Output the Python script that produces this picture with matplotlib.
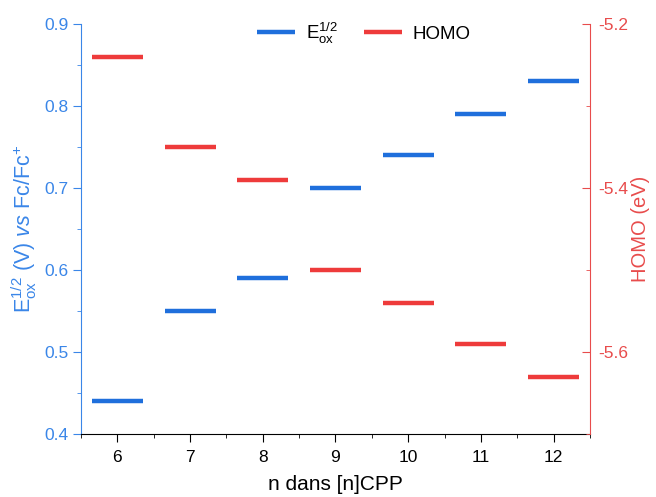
import matplotlib
matplotlib.use("Agg")
import matplotlib.pyplot as plt
from matplotlib.ticker import MultipleLocator

plt.rcParams['font.family'] = ['Liberation Sans', 'DejaVu Sans']
plt.rcParams['mathtext.fontset'] = 'custom'
plt.rcParams['mathtext.rm'] = 'Liberation Sans'
plt.rcParams['mathtext.it'] = 'Liberation Sans:italic'
plt.rcParams['mathtext.bf'] = 'Liberation Sans:bold'
plt.rcParams['axes.unicode_minus'] = False

n_values = [6, 7, 8, 9, 10, 11, 12]
eox_values = [0.44, 0.55, 0.59, 0.70, 0.74, 0.79, 0.83]
homo_values = [-5.24, -5.35, -5.39, -5.50, -5.54, -5.59, -5.63]

blue = '#1f6fdc'
red = '#ee3b3b'
blue_txt = '#3a86e8'
red_txt = '#e84c4c'

fig = plt.figure(figsize=(6.56, 4.97), dpi=100)
ax = fig.add_axes([81/656, 1-434/497, (590-81)/656, (434-24)/497])
ax2 = ax.twinx()

half = 0.35
l1 = ax.hlines(eox_values, [n - half for n in n_values], [n + half for n in n_values],
               colors=blue, linewidth=3.2, label=r'$\mathrm{E}_{\mathrm{ox}}^{\mathrm{1/2}}$')
l2 = ax2.hlines(homo_values, [n - half for n in n_values], [n + half for n in n_values],
                colors=red, linewidth=3.2, label='HOMO')

ax.set_xlim(5.5, 12.5)
ax.set_ylim(0.4, 0.9)
ax2.set_ylim(-5.7, -5.2)

ax.set_xticks(n_values)
ax.xaxis.set_minor_locator(MultipleLocator(0.5))
ax.yaxis.set_major_locator(MultipleLocator(0.1))
ax.yaxis.set_minor_locator(MultipleLocator(0.05))
ax2.yaxis.set_major_locator(MultipleLocator(0.2))
ax2.yaxis.set_minor_locator(MultipleLocator(0.1))

for a in (ax, ax2):
    a.spines['top'].set_visible(False)
ax.spines['left'].set_color(blue_txt)
ax.spines['right'].set_visible(False)
ax2.spines['left'].set_visible(False)
ax2.spines['bottom'].set_visible(False)
ax2.spines['right'].set_color(red_txt)
ax.spines['bottom'].set_color('black')

ax.tick_params(axis='x', which='both', direction='out', colors='black', labelsize=12.5, pad=6)
ax.tick_params(axis='x', which='major', length=5.5)
ax.tick_params(axis='x', which='minor', length=3)
ax.tick_params(axis='y', which='both', direction='out', colors=blue_txt, labelsize=12.5)
ax.tick_params(axis='y', which='major', length=5.5)
ax.tick_params(axis='y', which='minor', length=3)
ax2.tick_params(axis='y', which='both', direction='in', colors=red_txt, labelsize=12.5, pad=6)
ax2.tick_params(axis='y', which='major', length=5.5)
ax2.tick_params(axis='y', which='minor', length=3)

ax.set_xlabel('n dans [n]CPP', fontsize=15, labelpad=7)
ax.set_ylabel(r'$\mathrm{E}_{\mathrm{ox}}^{\mathrm{1/2}}$ (V) $vs$ Fc/Fc$^{+}$', fontsize=15.5,
              color=blue_txt, labelpad=4)
ax2.set_ylabel('HOMO (eV)', fontsize=14.5, color=red_txt, labelpad=2)

ax.legend(handles=[l1, l2], loc='center', frameon=False, ncol=2, fontsize=13.5,
          handlelength=2.0, handletextpad=0.6, columnspacing=1.4,
          bbox_to_anchor=((364-81)/509, (434-33)/410))

fig.savefig('out.png', dpi=100)
